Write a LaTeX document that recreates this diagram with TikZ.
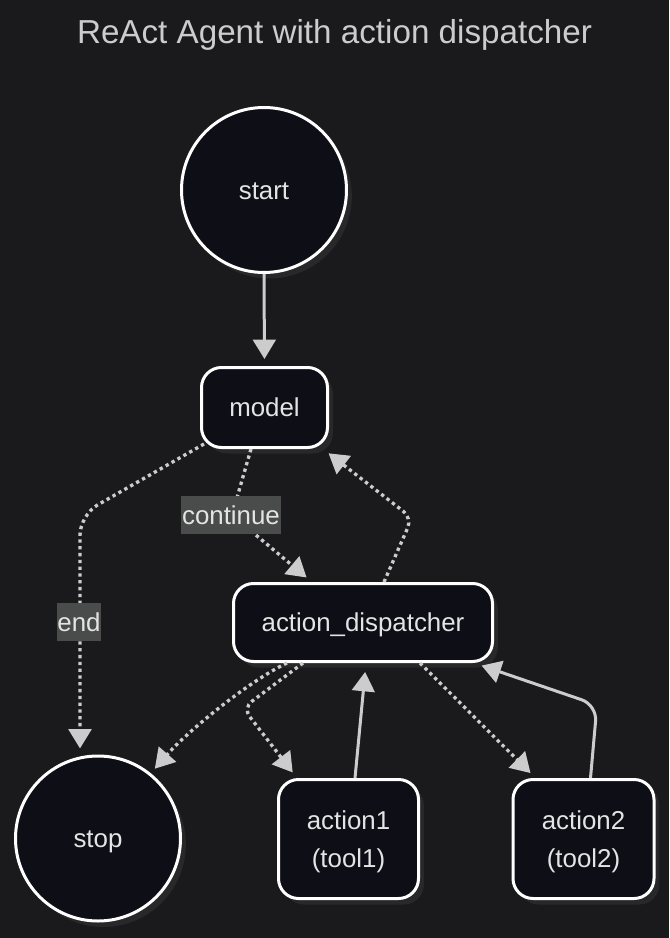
\documentclass[tikz,border=0pt]{standalone}
\usepackage{fontspec}
\setmainfont{Liberation Sans}
\usetikzlibrary{arrows.meta,shadows,calc}
\definecolor{bgcol}{RGB}{26,26,28}
\definecolor{nodefill}{RGB}{13,14,22}
\definecolor{nodetext}{RGB}{228,228,228}
\definecolor{titlecol}{RGB}{204,204,204}
\definecolor{edgecol}{RGB}{204,204,204}
\definecolor{labelbg}{RGB}{74,75,75}
\definecolor{shadowcol}{RGB}{40,40,43}
\begin{document}
\begin{tikzpicture}[x=0.75pt,y=-0.75pt,
  nodebox/.style={draw=white, line width=2.25pt, fill=nodefill, text=nodetext,
    font=\fontsize{19.4pt}{28.5pt}\selectfont, inner sep=0pt, text height=14pt, text depth=0pt,
    drop shadow={shadow xshift=4pt, shadow yshift=-4.5pt, fill=shadowcol, opacity=1}},
  rbox/.style={nodebox, rectangle, rounded corners=15pt},
  twoline/.style={text height=14pt, text depth=28.6pt},
  cnode/.style={nodebox, circle, minimum size=123.75pt},
  edgeline/.style={draw=edgecol, line width=2.25pt, -{Triangle[width=17pt,length=14.5pt]}},
  dotline/.style={edgeline, line width=2.5pt, dash pattern=on 2.5pt off 2.6pt},
  elabel/.style={fill=labelbg, text=nodetext, font=\fontsize{19.4pt}{22pt}\selectfont,
    inner xsep=0.5pt, inner ysep=0pt, minimum height=28.5pt}
]
\fill[bgcol] (0,0) rectangle (669,938);
\useasboundingbox (0,0) rectangle (669,938);

\node[text=titlecol, font=\fontsize{24.9pt}{28pt}\selectfont] (title) at (334.5,35) {ReAct Agent with action dispatcher};

\node[cnode] (start) at (264,190) {start};
\node[rbox, minimum width=94.5pt, minimum height=60pt] (model) at (264.5,407.5) {model};
\node[rbox, minimum width=194.25pt, minimum height=58.5pt] (dispatcher) at (363,622.5) {action\_dispatcher};
\node[cnode] (stop) at (98,838.5) {stop};
\node[rbox, twoline, minimum width=105pt, minimum height=89.25pt] (action1) at (348.5,839) {\begin{tabular}[t]{@{}c@{}}action1\\(tool1)\end{tabular}};
\node[rbox, twoline, minimum width=105.75pt, minimum height=89.25pt] (action2) at (583.5,839) {\begin{tabular}[t]{@{}c@{}}action2\\(tool2)\end{tabular}};

\coordinate (b1) at (80,515);
\coordinate (b2) at (232,515);
\coordinate (b3) at (412,518);
\coordinate (b4) at (243,708);
\coordinate (b5) at (597,705);

% start -> model
\draw[edgeline, shorten >=5.25pt] (start.south) -- (model.north);
% model -> stop (end)
\draw[dotline, rounded corners=15pt, shorten >=6pt] ($(model.south west)+(4,-5)$) -- (b1) -- ($(stop.center)+(-18,-82)$);
% model -> dispatcher (continue)
\draw[dotline, rounded corners=15pt, shorten >=5.25pt] ($(model.south)+(-13.5,0)$) -- (b2) -- ($(dispatcher.north west)+(80,0)$);
% dispatcher -> model
\draw[dotline, rounded corners=8pt, shorten >=5.25pt] ($(dispatcher.north)+(21,0)$) -- (b3) -- ($(model.south east)+(-6,0)$);
% dispatcher -> stop
\draw[dotline, shorten >=4.5pt] ($(dispatcher.south)+(-76,0)$) .. controls (247,682) and (186,733) .. (stop.51);
% dispatcher -> action1
\draw[dotline, rounded corners=8pt, shorten >=5.25pt] ($(dispatcher.south)+(-60,0)$) -- (b4) -- ($(action1.north west)+(20,0)$);
% action1 -> dispatcher
\draw[edgeline, shorten >=6.75pt] ($(action1.north)+(6.5,0)$) -- ($(dispatcher.south)+(3,0)$);
% dispatcher -> action2
\draw[dotline, shorten >=5.25pt] ($(dispatcher.south)+(57,0)$) -- ($(action2.north west)+(24,0)$);
% action2 -> dispatcher
\draw[edgeline, rounded corners=12pt, shorten >=6pt] ($(action2.north)+(7,0)$) -- (b5) -- ($(dispatcher.south east)+(-20,0)$);

\node[elabel] (endlbl) at (79,622) {end};
\node[elabel] (contlbl) at (231,515) {continue};
\end{tikzpicture}
\end{document}
